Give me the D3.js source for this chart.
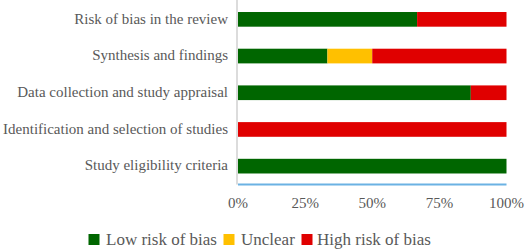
<!DOCTYPE html>
<html>
<head>
<meta charset="utf-8">
<script src="https://cdn.jsdelivr.net/npm/d3@7"></script>
<style>
  body { margin: 0; background: #fff; }
  text { font-family: "Liberation Serif", "Times New Roman", serif; fill: #595959; }
</style>
</head>
<body>
<svg id="chart" width="526" height="250"></svg>
<script>
// domains, top to bottom
const domains = [
  'Risk of bias in the review',
  'Synthesis and findings',
  'Data collection and study appraisal',
  'Identification and selection of studies',
  'Study eligibility criteria'
]
// percentages per judgement
const lowRisk = [66.7, 33.3, 86.7, 0, 100]
const unclear = [0, 16.7, 0, 0, 0]
const highRisk = [33.3, 50, 13.3, 100, 0]
const ticks = [0, 25, 50, 75, 100]

const seriesNames = ['Low risk of bias', 'Unclear', 'High risk of bias']
const seriesColors = ['#006600', '#FFC000', '#E00000']

const svg = d3.select('#chart')
const plotLeft = 238, plotRight = 506.5, plotTop = 1, plotBottom = 184.5

let rows = domains.map((d, i) => ({
  name: d, low: lowRisk[i], unclear: unclear[i], high: highRisk[i]
}))
let stack = d3.stack().keys(['low', 'unclear', 'high'])(rows)

let x = d3.scaleLinear().domain([0, 100]).range([plotLeft, plotRight])
let y = d3.scaleBand().domain(domains).range([plotTop, plotBottom])
  .paddingInner(0.6).paddingOuter(0.3)

// vertical axis line
svg.append('line')
  .attr('x1', plotLeft - 1).attr('x2', plotLeft - 1)
  .attr('y1', 0).attr('y2', plotBottom)
  .attr('stroke', '#d0d0d0').attr('stroke-width', 1.5)

// bars
svg.append('g').selectAll('g')
  .data(stack)
  .enter()
  .append('g')
  .attr('fill', (d, i) => seriesColors[i])
  .selectAll('rect')
  .data(d => d)
  .enter()
  .append('rect')
  .attr('x', d => x(d[0]))
  .attr('width', d => x(d[1]) - x(d[0]))
  .attr('y', d => y(d.data.name))
  .attr('height', y.bandwidth())

// bottom axis line
svg.append('line')
  .attr('x1', plotLeft).attr('x2', plotRight)
  .attr('y1', plotBottom).attr('y2', plotBottom)
  .attr('stroke', '#6BB2E3').attr('stroke-width', 2)

// category labels
svg.append('g').selectAll('text')
  .data(domains)
  .enter()
  .append('text')
  .attr('x', 228)
  .attr('y', d => y(d) + y.bandwidth() / 2)
  .attr('dy', '0.28em')
  .attr('text-anchor', 'end')
  .style('font-size', '15px')
  .text(d => d)

// tick labels
svg.append('g').selectAll('text')
  .data(ticks)
  .enter()
  .append('text')
  .attr('x', d => x(d))
  .attr('y', 208)
  .attr('text-anchor', 'middle')
  .style('font-size', '15px')
  .text(d => d + '%')

// legend
let legendX = [88.5, 223.5, 301.5]
let lg = svg.append('g').selectAll('g')
  .data(seriesNames)
  .enter()
  .append('g')
  .attr('transform', (d, i) => `translate(${legendX[i]},234)`)
lg.append('rect')
  .attr('width', 11).attr('height', 11)
  .attr('fill', (d, i) => seriesColors[i])
lg.append('text')
  .attr('x', (d, i) => i === 2 ? 15.5 : 17.5).attr('y', 11)
  .style('font-size', '17px')
  .text(d => d)
</script>
</body>
</html>
